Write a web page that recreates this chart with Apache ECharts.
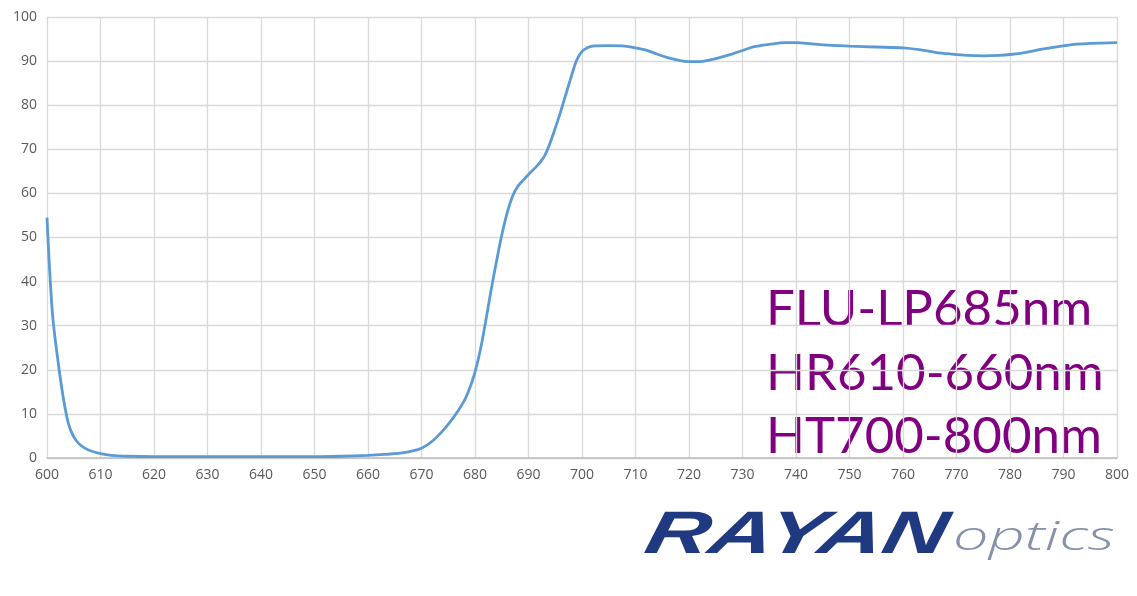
<!DOCTYPE html>
<html>
<head>
<meta charset="utf-8">
<script src="https://cdn.jsdelivr.net/npm/echarts@6/dist/echarts.min.js"></script>
<style>
html,body{margin:0;padding:0;background:#fff;}
#chart{width:1137px;height:596px;}
</style>
</head>
<body>
<div id="chart"></div>
<script>
const wavelengths = [600,601,602,603,604,605,606,607,608,610,612,615,620,630,640,650,655,660,663,666,668,670,672,674,676,678,679,680,681,682,683,684,685,686,687,688,689,690,691,692,693,694,695,696,697,698,699,700,701,702,705,708,710,712,714,716,718,720,722,724,726,728,730,732,735,738,740,743,746,750,755,760,763,766,769,772,775,778,780,783,786,789,792,795,800];
const transmission = [54.5,33,22.5,14,7.8,4.8,3.2,2.3,1.7,1.0,0.6,0.4,0.3,0.3,0.3,0.3,0.4,0.6,0.8,1.1,1.5,2.2,3.8,6.2,9.2,13,15.8,19.5,24.5,31,38,44.5,50.5,55.5,59.3,61.6,63,64.3,65.5,66.8,68.5,71.3,74.8,78.5,82.5,86.5,90.2,92.2,93,93.4,93.5,93.4,93,92.5,91.6,90.8,90.2,89.9,89.9,90.3,90.9,91.6,92.4,93.2,93.8,94.2,94.2,93.9,93.6,93.4,93.2,93.0,92.6,92.0,91.6,91.3,91.2,91.3,91.5,92,92.7,93.3,93.8,94.0,94.2];
const productLines = ["FLU-LP685nm","HR610-660nm","HT700-800nm"];
const logoMain = "RAYAN";
const logoSub = "optics";

const chart = echarts.init(document.getElementById('chart'));
const labelStyle = {color:'#595959', fontSize:14, fontFamily:'"Open Sans", "Liberation Sans", sans-serif'};
chart.setOption({
  animation:false,
  grid:{left:47, right:20, top:17, bottom:138},
  xAxis:{type:'value', min:600, max:800, interval:10,
    axisLine:{lineStyle:{color:'#bfbfbf', width:1.5}},
    axisTick:{show:false},
    axisLabel:Object.assign({margin:10}, labelStyle),
    splitLine:{show:true, lineStyle:{color:'#d9d9d9', width:1.3}}},
  yAxis:{type:'value', min:0, max:100, interval:10,
    axisLine:{show:false}, axisTick:{show:false},
    axisLabel:Object.assign({margin:10}, labelStyle),
    splitLine:{lineStyle:{color:'#d9d9d9', width:1.3}}},
  series:[{type:'line', data:wavelengths.map((w,i)=>[w,transmission[i]]),
    smooth:0.35, symbol:'none', lineStyle:{color:'#5b9bd5', width:2.8}}],
  graphic:[
    {type:'text', left:766, top:284, style:{text:productLines[0], fill:'#800080', font:'51px Lato, "Open Sans", sans-serif'}},
    {type:'text', left:766, top:348, style:{text:productLines[1], fill:'#800080', font:'51px Lato, "Open Sans", sans-serif'}},
    {type:'text', left:766, top:411, style:{text:productLines[2], fill:'#800080', font:'51px Lato, "Open Sans", sans-serif'}}
  ]
});
const zr = chart.getZr();
zr.add(new echarts.graphic.Text({
  x:653, y:506, scaleX:1.47, scaleY:1, skewX:-0.22, z:100,
  style:{text:logoMain, fill:'#1f3a80', font:'italic 900 60px "Liberation Sans", sans-serif', verticalAlign:'top'}
}));
zr.add(new echarts.graphic.Text({
  x:953, y:519, scaleX:1.58, scaleY:1, z:100,
  style:{text:logoSub, fill:'#8590aa', font:'italic 300 40px "Open Sans", sans-serif', verticalAlign:'top'}
}));
</script>
</body>
</html>
